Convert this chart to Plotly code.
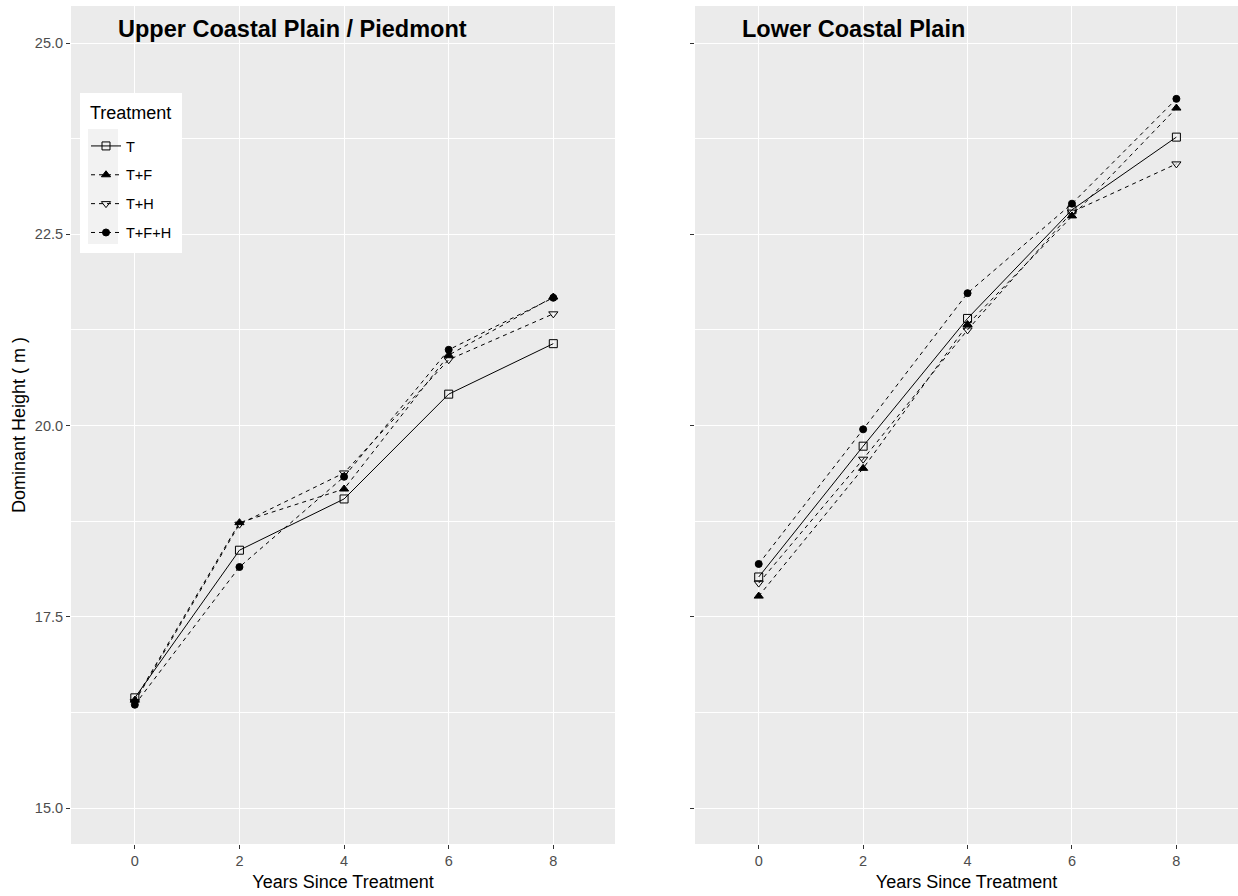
import plotly.graph_objects as go

# Dominant height (m) by years since treatment, per region and treatment
years = [0, 2, 4, 6, 8]
treatments = ["T", "T+F", "T+H", "T+F+H"]

upper_T = [16.44, 18.37, 19.04, 20.41, 21.07]
upper_TF = [16.41, 18.73, 19.17, 20.92, 21.68]
upper_TH = [16.39, 18.71, 19.38, 20.86, 21.46]
upper_TFH = [16.35, 18.15, 19.33, 20.99, 21.67]

lower_T = [18.02, 19.73, 21.40, 22.82, 23.77]
lower_TF = [17.77, 19.44, 21.32, 22.74, 24.15]
lower_TH = [17.94, 19.56, 21.25, 22.79, 23.42]
lower_TFH = [18.19, 19.95, 21.73, 22.90, 24.27]

panel_titles = ["Upper Coastal Plain / Piedmont", "Lower Coastal Plain"]
legend_title = "Treatment"
y_ticks = [15.0, 17.5, 20.0, 22.5, 25.0]
x_ticks = [0, 2, 4, 6, 8]

series = {
    "x": [upper_T, upper_TF, upper_TH, upper_TFH],
    "x2": [lower_T, lower_TF, lower_TH, lower_TFH],
}

styles = {
    "T": dict(symbol="square-open", size=8, dash="solid"),
    "T+F": dict(symbol="triangle-up", size=8, dash="4px,4px"),
    "T+H": dict(symbol="triangle-down-open", size=8, dash="4px,4px"),
    "T+F+H": dict(symbol="circle", size=7, dash="4px,4px"),
}

FONT = "Liberation Sans, Arial, sans-serif"
W, H = 1238, 896


def px_x(v):
    return v / W


def px_y(v):
    return 1 - v / H


fig = go.Figure()
for xa, ya in [("x", "y"), ("x2", "y2")]:
    for name, vals in zip(treatments, series[xa]):
        st = styles[name]
        fig.add_trace(go.Scatter(
            x=years, y=vals, xaxis=xa, yaxis=ya,
            mode="lines+markers", name=name,
            legendgroup=name, showlegend=(xa == "x"),
            line=dict(color="black", width=1, dash=st["dash"]),
            marker=dict(symbol=st["symbol"], size=st["size"], color="black",
                        line=dict(color="black", width=1)),
        ))

axis_common = dict(
    range=[-1.22, 9.18], tickvals=x_ticks, ticktext=[str(v) for v in x_ticks],
    showgrid=True, gridcolor="white", gridwidth=1.2, zeroline=False,
    ticks="outside", ticklen=4, tickcolor="#333333", tickwidth=1,
    tickfont=dict(family=FONT, size=14.5, color="#4D4D4D"),
    showline=False,
    title=dict(text="Years Since Treatment", standoff=6,
               font=dict(family=FONT, size=18, color="black")),
)
yaxis_common = dict(
    range=[14.529, 25.484], tickvals=y_ticks,
    ticktext=[f"{v:.1f}" for v in y_ticks],
    showgrid=True, gridcolor="white", gridwidth=1.2, zeroline=False,
    ticks="outside", ticklen=4, tickcolor="#333333", tickwidth=1,
    tickfont=dict(family=FONT, size=14.5, color="#4D4D4D"),
    minor=dict(dtick=1.25, tick0=15, showgrid=True, gridcolor="white",
               gridwidth=0.6, ticks=""),
)

fig.update_layout(
    width=W, height=H,
    margin=dict(l=0, r=0, t=0, b=0),
    paper_bgcolor="white", plot_bgcolor="#EBEBEB",
    font=dict(family=FONT, color="black"),
    xaxis=dict(domain=[0.05735, 0.4968], anchor="y", **axis_common),
    xaxis2=dict(domain=[0.5614, 1.0], anchor="y2", **axis_common),
    yaxis=dict(domain=[0.058, 0.9933], anchor="x",
               title=dict(text="Dominant Height ( m )", standoff=4,
                          font=dict(family=FONT, size=18, color="black")),
               **yaxis_common),
    yaxis2=dict(domain=[0.058, 0.9933], anchor="x2", showticklabels=False,
                **yaxis_common),
    legend=dict(
        x=px_x(86), y=px_y(130), xanchor="left", yanchor="top",
        bgcolor="rgba(0,0,0,0)", borderwidth=0,
        font=dict(family=FONT, size=14.5, color="black"),
        tracegroupgap=7, itemwidth=30,
    ),
    showlegend=True,
)

# Legend panel: white box, grey key strip and title
fig.add_shape(type="rect", xref="paper", yref="paper", layer="above",
              x0=px_x(80), x1=px_x(182), y0=px_y(253), y1=px_y(93),
              fillcolor="white", line=dict(width=0))
fig.add_shape(type="rect", xref="paper", yref="paper", layer="above",
              x0=px_x(88), x1=px_x(118), y0=px_y(244), y1=px_y(129),
              fillcolor="#F2F2F2", line=dict(width=0))
fig.add_annotation(x=px_x(88), y=px_y(113), xref="paper", yref="paper",
                   text=legend_title, showarrow=False, xanchor="left",
                   yanchor="middle",
                   font=dict(family=FONT, size=18, color="black"))

for xr, yr, text in [("x", "y", panel_titles[0]), ("x2", "y2", panel_titles[1])]:
    fig.add_annotation(
        x=-0.36, y=25.18, xref=xr, yref=yr, text=f"<b>{text}</b>",
        showarrow=False, xanchor="left", yanchor="middle",
        font=dict(family=FONT, size=23.5, color="black"),
    )

fig.write_html("out.html")
